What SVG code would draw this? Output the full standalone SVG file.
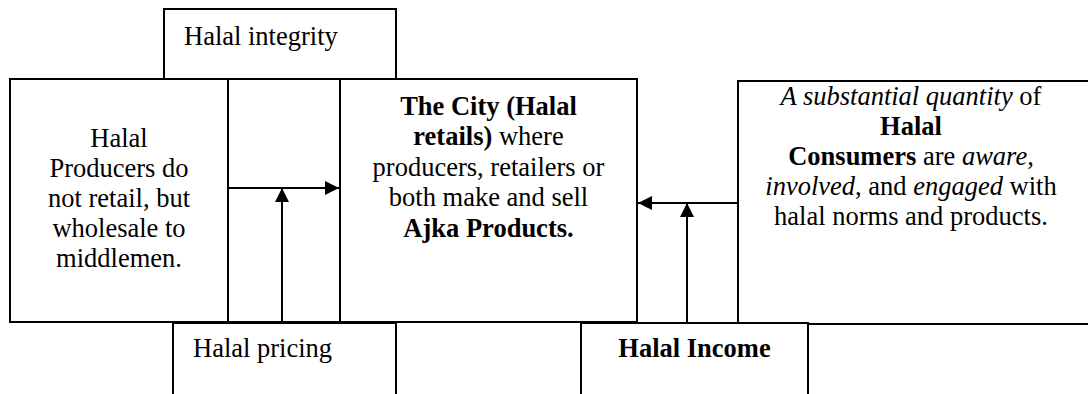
<svg xmlns="http://www.w3.org/2000/svg" width="1088" height="394" viewBox="0 0 1088 394">
<style>
.box{fill:#fff;stroke:#000;stroke-width:2}
.c{text-anchor:middle}
.b{font-weight:bold}
.i{font-style:italic}
.ln{stroke:#000;stroke-width:2;fill:none}
</style>
<defs>
<marker id="ah" viewBox="0 0 10 10" refX="10" refY="5" markerWidth="7" markerHeight="7" markerUnits="strokeWidth" orient="auto">
<path d="M0,0 L10,5 L0,10 Z" fill="#000"/>
</marker>
</defs>
<g id="integrity">
<rect class="box" x="164" y="9" width="232" height="70"/>
<text font-size="26.5" font-family="Liberation Serif" x="184" y="45">Halal integrity</text>
</g>
<g id="producers">
<rect class="box" x="10" y="79" width="218" height="243"/>
<text class="c" font-size="26.5" font-family="Liberation Serif" x="119"><tspan x="119" y="147">Halal</tspan><tspan x="119" y="177">Producers do</tspan><tspan x="119" y="207">not retail, but</tspan><tspan x="119" y="237">wholesale to</tspan><tspan x="119" y="267">middlemen.</tspan></text>
</g>
<g id="link-left">
<rect class="box" x="228" y="79" width="112" height="243"/>
</g>
<g id="city">
<rect class="box" x="340" y="79" width="297" height="243"/>
<text class="c" font-size="26.5" font-family="Liberation Serif"><tspan x="488.5" y="115" class="b">The City (Halal</tspan><tspan x="488.5" y="145"><tspan class="b">retails)</tspan> where</tspan><tspan x="488.5" y="176">producers, retailers or</tspan><tspan x="488.5" y="206">both make and sell</tspan><tspan x="488.5" y="237" class="b">Ajka Products.</tspan></text>
</g>
<g id="consumers">
<rect class="box" x="738" y="81" width="360" height="243"/>
<text class="c" font-size="26.5" font-family="Liberation Serif"><tspan x="911" y="105"><tspan class="i">A substantial quantity</tspan> of</tspan><tspan x="911" y="135" class="b">Halal</tspan><tspan x="911" y="165"><tspan class="b">Consumers</tspan> are <tspan class="i">aware</tspan>,</tspan><tspan x="911" y="195"><tspan class="i">involved</tspan>, and <tspan class="i">engaged</tspan> with</tspan><tspan x="911" y="225">halal norms and products.</tspan></text>
</g>
<g id="pricing">
<rect class="box" x="173" y="323" width="223" height="90"/>
<text font-size="26.5" font-family="Liberation Serif" x="193" y="357">Halal pricing</text>
</g>
<g id="income">
<rect class="box" x="581" y="323" width="227" height="90"/>
<text class="c b" font-size="26.5" font-family="Liberation Serif" x="694.5" y="357">Halal Income</text>
</g>
<g id="connectors">
<line class="ln" x1="228" y1="188" x2="339" y2="188" marker-end="url(#ah)"/>
<line class="ln" x1="282" y1="322" x2="282" y2="188" marker-end="url(#ah)"/>
<line class="ln" x1="738" y1="203" x2="638" y2="203" marker-end="url(#ah)"/>
<line class="ln" x1="687" y1="323" x2="687" y2="203" marker-end="url(#ah)"/>
</g>
</svg>
